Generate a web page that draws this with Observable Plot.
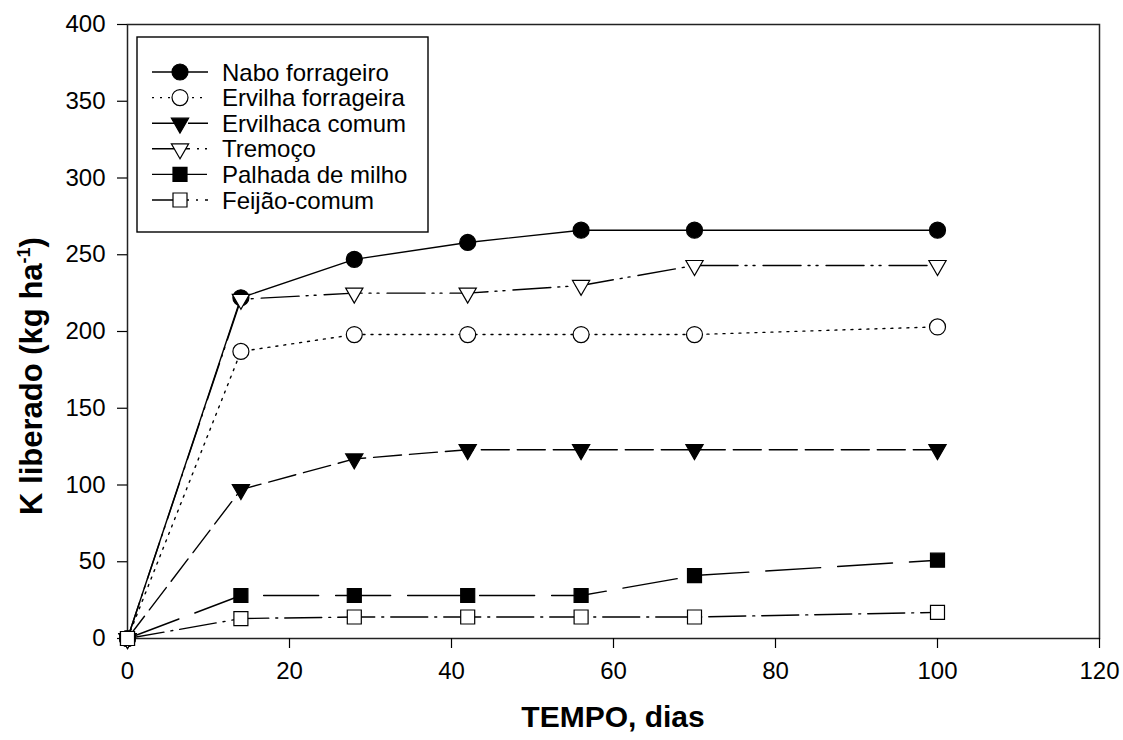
<!DOCTYPE html>
<html>
<head>
<meta charset="utf-8">
<script src="https://cdn.jsdelivr.net/npm/d3@7"></script>
<script src="https://cdn.jsdelivr.net/npm/@observablehq/plot@0.6"></script>
<style>
  body { margin: 0; background: #fff; }
  #chart { width: 1123px; height: 740px; }
  #chart svg { font-family: "Liberation Sans", Arial, sans-serif; }
</style>
</head>
<body>
<div id="chart"></div>
<script>
// Days after management (sampling times)
const dias = [0, 14, 28, 42, 56, 70, 100];

// Cumulative K released (kg ha-1) per cover crop residue
const nabo      = [0, 222, 247, 258, 266, 266, 266];
const ervilha   = [0, 187, 198, 198, 198, 198, 203];
const ervilhaca = [0, 97, 117, 123, 123, 123, 123];
const tremoco   = [0, 221, 225, 225, 230, 243, 243];
const palhada   = [0, 28, 28, 28, 28, 41, 51];
const feijao    = [0, 13, 14, 14, 14, 14, 17];

const nomes = ["Nabo forrageiro", "Ervilha forrageira", "Ervilhaca comum", "Tremoço", "Palhada de milho", "Feijão-comum"];
const valores = [nabo, ervilha, ervilhaca, tremoco, palhada, feijao];

const xTicks = [0, 20, 40, 60, 80, 100, 120];
const yTicks = [0, 50, 100, 150, 200, 250, 300, 350, 400];

// Line and symbol style for each series, in drawing order
const estilos = [
  {dash: null,               symbol: "circle",   fill: "black", r: 8,   rotate: 0},
  {dash: "2,6",              symbol: "circle",   fill: "white", r: 8,   rotate: 0},
  {dash: "28,8",             symbol: "triangle", fill: "black", r: 6.4, rotate: 180},
  {dash: "38,7,2,6,2,8",     symbol: "triangle", fill: "white", r: 6.4, rotate: 180},
  {dash: "55,17",            symbol: "square",   fill: "black", r: 7.9, rotate: 0},
  {dash: "37,7,2,7",         symbol: "square",   fill: "white", r: 7.9, rotate: 0}
];

const series = nomes.map((nome, i) => ({
  nome,
  estilo: estilos[i],
  rows: dias.map((d, j) => ({dia: d, k: valores[i][j]}))
}));

const marks = [];
for (const s of series) {
  marks.push(Plot.line(s.rows, {
    x: "dia", y: "k", stroke: "black", strokeWidth: 1.4,
    strokeDasharray: s.estilo.dash ?? undefined
  }));
  marks.push(Plot.dot(s.rows, {
    x: "dia", y: "k", symbol: s.estilo.symbol, r: s.estilo.r,
    fill: s.estilo.fill, stroke: "black", strokeWidth: 1.2, rotate: s.estilo.rotate
  }));
}

const W = 1123, H = 740;
const mL = 127, mR = 24, mT = 24, mB = 102;

const chart = Plot.plot({
  width: W,
  height: H,
  marginLeft: mL,
  marginRight: mR,
  marginTop: mT,
  marginBottom: mB,
  style: {fontFamily: "Liberation Sans, Arial, sans-serif", background: "white", color: "black"},
  x: {domain: [0, 120]},
  y: {domain: [0, 400]},
  marks: [
    Plot.frame({stroke: "#222", strokeWidth: 1.5}),
    Plot.axisX({ticks: xTicks, tickSize: 10, tickPadding: 13, fontSize: 24, label: null, strokeWidth: 1.2}),
    Plot.axisY({ticks: yTicks, tickSize: 10, tickPadding: 12, fontSize: 24, label: null, strokeWidth: 1.2}),
    ...marks
  ]
});

document.getElementById("chart").appendChild(chart);

const svg = d3.select(chart);

// Axis titles
svg.append("text")
  .attr("x", mL + (W - mL - mR) / 2)
  .attr("y", 727)
  .attr("text-anchor", "middle")
  .attr("font-size", 30)
  .attr("font-weight", "bold")
  .text("TEMPO, dias");

const yt = svg.append("text")
  .attr("transform", `translate(42,376) rotate(-90)`)
  .attr("text-anchor", "middle")
  .attr("font-size", 31)
  .attr("font-weight", "bold");
yt.append("tspan").text("K liberado (kg ha");
yt.append("tspan").attr("font-size", 18).attr("dy", -12).text("-1");
yt.append("tspan").attr("dy", 12).text(")");

// Legend box with line/symbol samples
const lx = 137, ly = 37, lw = 291, lh = 195, row = 25.6, y0 = 72;
const lg = svg.append("g");
lg.append("rect")
  .attr("x", lx).attr("y", ly).attr("width", lw).attr("height", lh)
  .attr("fill", "white").attr("stroke", "black").attr("stroke-width", 1.4);

series.forEach((s, i) => {
  const cy = y0 + i * row;
  lg.append("line")
    .attr("x1", 152).attr("x2", 208).attr("y1", cy).attr("y2", cy)
    .attr("stroke", "black").attr("stroke-width", 1.4)
    .attr("stroke-dasharray", s.estilo.dash);
  const sym = {circle: d3.symbolCircle, triangle: d3.symbolTriangle, square: d3.symbolSquare}[s.estilo.symbol];
  lg.append("path")
    .attr("d", d3.symbol(sym, s.estilo.r * s.estilo.r * Math.PI)())
    .attr("transform", `translate(180,${cy}) rotate(${s.estilo.rotate})`)
    .attr("fill", s.estilo.fill).attr("stroke", "black").attr("stroke-width", 1.2);
  lg.append("text")
    .attr("x", 222).attr("y", cy)
    .attr("dy", "0.36em")
    .attr("text-anchor", "start")
    .attr("font-size", 24)
    .text(s.nome);
});
</script>
</body>
</html>
